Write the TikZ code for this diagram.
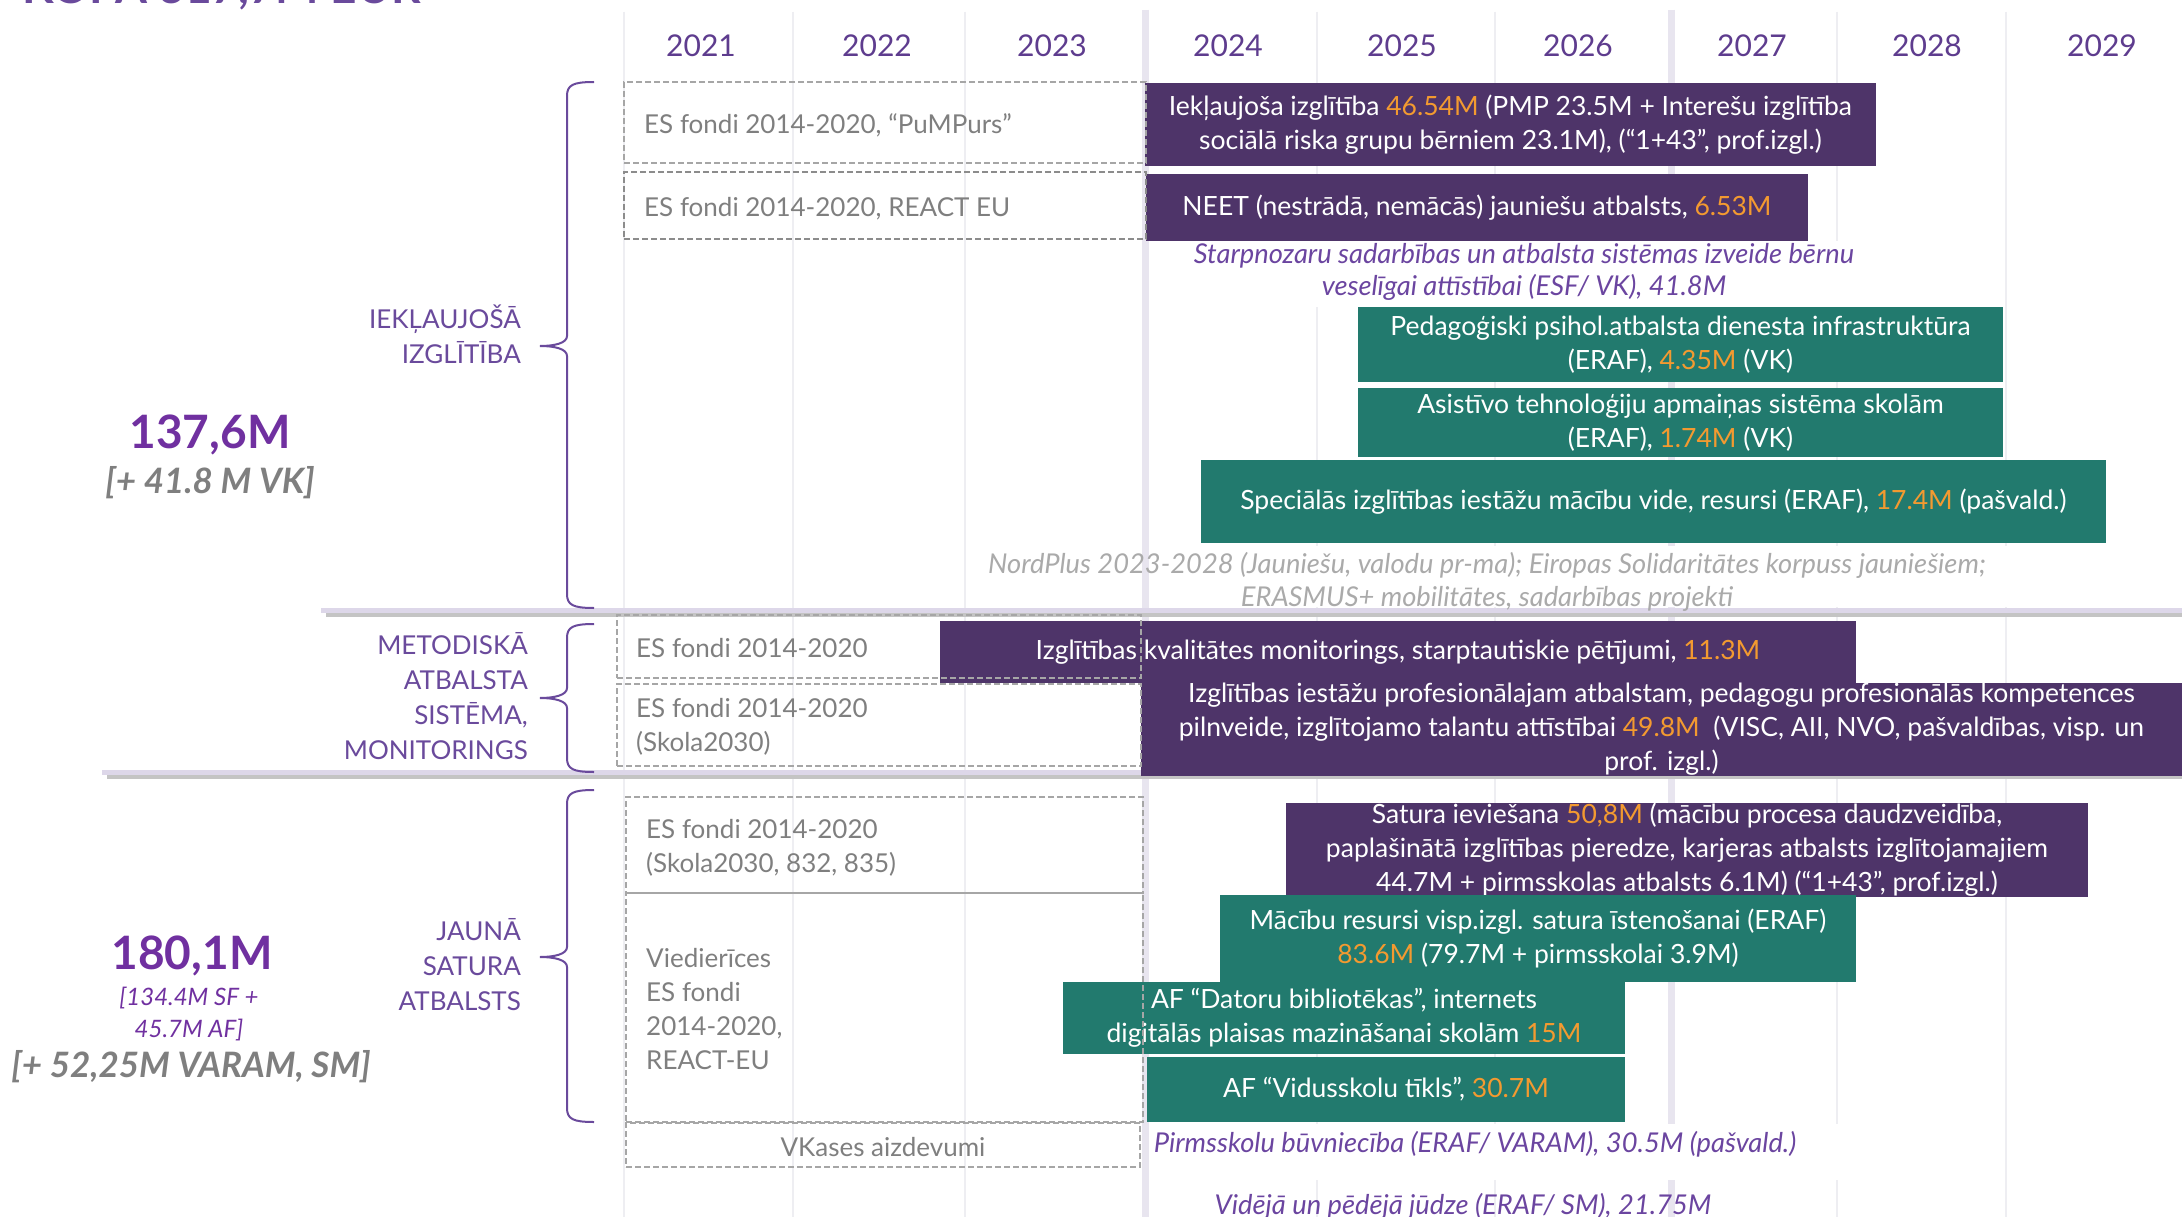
\documentclass[tikz,border=0pt]{standalone}
\usepackage{fontspec}
\setmainfont{Lato}
\definecolor{barpurple}{HTML}{4E3469}
\definecolor{bargreen}{HTML}{227A6E}
\definecolor{numorange}{HTML}{F39A30}
\definecolor{yearpurple}{HTML}{5E3C8E}
\definecolor{labelpurple}{HTML}{6A4A9C}
\definecolor{bigpurple}{HTML}{7030A0}
\definecolor{italpurple}{HTML}{6B45A0}
\definecolor{boxgray}{HTML}{A6A6A6}
\definecolor{boxdark}{HTML}{8C8C8C}
\definecolor{textgray}{HTML}{7F7F7F}
\definecolor{lightgray}{HTML}{AAAAAA}
\definecolor{gridthin}{HTML}{EEEEF2}
\definecolor{gridthick}{HTML}{E8E5EF}
\definecolor{seplav}{HTML}{DDD7E9}
\definecolor{sepshadow}{HTML}{C4C4C4}
\newcommand{\num}[1]{\textcolor{numorange}{#1}}
\newcommand{\mybrace}[4]{%
  \draw[bracestyle] ({#1+27},#2) .. controls ({#1+6},#2) and (#1,{#2+3}) .. (#1,{#2+14})
    -- (#1,{#3-10}) .. controls (#1,{#3-3}) and ({#1-12},#3) .. ({#1-27},#3)
    .. controls ({#1-12},#3) and (#1,{#3+3}) .. (#1,{#3+10})
    -- (#1,{#4-14}) .. controls (#1,{#4-3}) and ({#1+6},#4) .. ({#1+27},#4);}
\begin{document}
\begin{tikzpicture}[x=1pt,y=-1pt,
  pbar/.style={fill=barpurple,draw=none,inner sep=0pt,text=white,align=center,font=\fontsize{26.5}{34}\selectfont},
  gbar/.style={fill=bargreen,draw=none,inner sep=0pt,text=white,align=center,font=\fontsize{26.5}{34}\selectfont},
  dbox/.style={draw=boxgray,line width=2pt,dash pattern=on 6pt off 3pt,inner sep=0pt},
  dboxdark/.style={draw=boxdark,line width=2pt,dash pattern=on 6pt off 3pt,inner sep=0pt},
  boxtxt/.style={text=textgray,inner sep=0pt,align=left,font=\fontsize{26}{34}\selectfont},
  yearlbl/.style={text=yearpurple,inner sep=0pt,anchor=base,font=\fontsize{30}{36}\selectfont},
  bracelbl/.style={text=labelpurple,inner sep=0pt,anchor=east,align=right,font=\fontsize{26}{35}\selectfont},
  bracestyle/.style={draw=labelpurple,line width=2pt},
  italp/.style={text=italpurple,inner sep=0pt,align=center,font=\fontsize{27.3}{32}\selectfont\itshape},
  italg/.style={text=lightgray,inner sep=0pt,align=center,font=\fontsize{27.3}{33}\selectfont\itshape},
  bignum/.style={text=bigpurple,inner sep=0pt,anchor=base,font=\fontsize{46}{50}\selectfont\bfseries},
  grayextra/.style={text=textgray,inner sep=0pt,anchor=base,font=\fontsize{35}{40}\selectfont\bfseries\itshape},
  smallp/.style={text=bigpurple,inner sep=0pt,anchor=base,font=\fontsize{24}{28}\selectfont\itshape}
]
\useasboundingbox (0,0) rectangle (2182,1217);
\fill[white] (0,0) rectangle (2182,1217);

% title (cut off at top, as in the reference)
\node[text=labelpurple,inner sep=0pt,anchor=base west,font=\fontsize{46}{50}\selectfont\bfseries] (title) at (22,4) {KOPĀ 317,7M EUR};

% grid lines
\foreach \gx in {624,793,965,1317,1495,1837,2006}
  \draw[gridthin,line width=2pt] (\gx,12) -- (\gx,1217);
\foreach \gx in {1145,1671}
  \draw[gridthick,line width=7pt] (\gx,10) -- (\gx,1217);

% years
\foreach \yx/\yr in {701/2021,877/2022,1052/2023,1228/2024,1402/2025,1578/2026,1752/2027,1927/2028,2102/2029}
  \node[yearlbl] (y\yr) at (\yx,57) {\yr};

% white patches behind italic texts
\fill[white] (1149,241) rectangle (1907,307);
\fill[white] (1149,546) rectangle (2020,607);
\fill[white] (1149,1124) rectangle (1840,1180);

% separators
\draw[sepshadow,line width=4pt] (326,615) -- (2182,615);
\draw[seplav,line width=5pt] (321,610) -- (2182,610);
\draw[sepshadow,line width=4pt] (107,777) -- (2182,777);
\draw[seplav,line width=5pt] (102,772) -- (2182,772);

% bars
\node[pbar,minimum width=731pt,minimum height=83pt] (barA) at (1510.5,124.5)
  {Iekļaujoša izglītība \num{46.54M} (PMP 23.5M + Interešu izglītība\\sociālā riska grupu bērniem 23.1M), (“1+43”, prof.izgl.)};
\node[pbar,minimum width=662pt,minimum height=67pt] (barB) at (1477,207.5)
  {NEET (nestrādā, nemācās) jauniešu atbalsts, \num{6.53M}};
\node[gbar,minimum width=645pt,minimum height=75pt] (barC) at (1680.5,344.5)
  {Pedagoģiski psihol.atbalsta dienesta infrastruktūra\\(ERAF), \num{4.35M} (VK)};
\node[gbar,minimum width=645pt,minimum height=69pt] (barD) at (1680.5,422.5)
  {Asistīvo tehnoloģiju apmaiņas sistēma skolām\\(ERAF), \num{1.74M} (VK)};
\node[gbar,minimum width=905pt,minimum height=83pt] (barE) at (1653.5,501.5)
  {Speciālās izglītības iestāžu mācību vide, resursi (ERAF), \num{17.4M} (pašvald.)};
\node[pbar,minimum width=916pt,minimum height=62pt] (barF) at (1398,652)
  {Izglītības kvalitātes monitorings, starptautiskie pētījumi, \num{11.3M}};
\node[pbar,minimum width=1041pt,minimum height=85pt] (barG) at (1661.5,729.5)
  {Izglītības iestāžu profesionālajam atbalstam, pedagogu profesionālās kompetences\\pilnveide, izglītojamo talantu attīstībai \num{49.8M}~ (VISC, AII, NVO, pašvaldības, visp. un\\prof. izgl.)};
\node[pbar,minimum width=802pt,minimum height=90pt] (barH) at (1687,850)
  {Satura ieviešana \num{50,8M} (mācību procesa daudzveidība,\\paplašinātā izglītības pieredze, karjeras atbalsts izglītojamajiem\\44.7M + pirmsskolas atbalsts 6.1M) (“1+43”, prof.izgl.)};
\node[gbar,minimum width=636pt,minimum height=87pt] (barI) at (1538,938.5)
  {Mācību resursi visp.izgl. satura īstenošanai (ERAF)\\\num{83.6M} (79.7M + pirmsskolai 3.9M)};
\node[gbar,minimum width=562pt,minimum height=72pt] (barJ) at (1344,1018)
  {AF “Datoru bibliotēkas”, internets\\digitālās plaisas mazināšanai skolām \num{15M}};
\node[gbar,minimum width=478pt,minimum height=65pt] (barK) at (1386,1089.5)
  {AF “Vidusskolu tīkls”, \num{30.7M}};

% dashed boxes
\node[dbox,minimum width=522pt,minimum height=81pt] (b1) at (885,122.5) {};
\node[dboxdark,minimum width=522pt,minimum height=67pt] (b2) at (885,205.5) {};
\node[dbox,minimum width=524pt,minimum height=63pt] (b3) at (879,646.5) {};
\node[dbox,minimum width=524pt,minimum height=82pt] (b4) at (879,725) {};
\node[dbox,minimum width=517pt,minimum height=96pt] (b5) at (884.5,845) {};
\node[dbox,minimum width=517pt,minimum height=229pt] (b6) at (884.5,1007.5) {};
\node[dbox,minimum width=514pt,minimum height=44pt] (b7) at (883,1145) {};

\node[boxtxt,anchor=west] (t1) at ([xshift=21pt,yshift=-3pt]b1.west) {ES fondi 2014-2020, “PuMPurs”};
\node[boxtxt,anchor=west] (t2) at ([xshift=21pt,yshift=-3pt]b2.west) {ES fondi 2014-2020, REACT EU};
\node[boxtxt,anchor=west] (t3) at ([xshift=20pt,yshift=-2pt]b3.west) {ES fondi 2014-2020};
\node[boxtxt,anchor=west] (t4) at ([xshift=20pt,yshift=-2pt]b4.west) {ES fondi 2014-2020\\(Skola2030)};
\node[boxtxt,anchor=west] (t5) at ([xshift=21pt,yshift=-3pt]b5.west) {ES fondi 2014-2020\\(Skola2030, 832, 835)};
\node[boxtxt,anchor=west] (t6) at ([xshift=21pt,yshift=-2pt]b6.west) {Viedierīces\\ES fondi\\2014-2020,\\REACT-EU};
\node[boxtxt,align=center] (t7) at ([yshift=-2pt]b7.center) {VKases aizdevumi};

% italic notes
\node[italp] (n1) at (1524,272) {Starpnozaru sadarbības un atbalsta sistēmas izveide bērnu\\veselīgai attīstībai (ESF/ VK), 41.8M};
\node[italg] (n2) at (1487,582) {NordPlus 2023-2028 (Jauniešu, valodu pr-ma); Eiropas Solidaritātes korpuss jauniešiem;\\ERASMUS+ mobilitātes, sadarbības projekti};
\node[italp] (n3) at (1475,1144) {Pirmsskolu būvniecība (ERAF/ VARAM), 30.5M (pašvald.)};
\node[italp] (n4) at (1463,1206) {Vidējā un pēdējā jūdze (ERAF/ SM), 21.75M};

% braces
\mybrace{567}{82}{346}{608}
\mybrace{567}{624}{698}{772}
\mybrace{567}{790}{957}{1122}

\node[bracelbl] (l1) at (521,334) {IEKĻAUJOŠĀ\\IZGLĪTĪBA};
\node[bracelbl] (l2) at (528,696) {METODISKĀ\\ATBALSTA\\SISTĒMA,\\MONITORINGS};
\node[bracelbl] (l3) at (521,965) {JAUNĀ\\SATURA\\ATBALSTS};

% totals
\node[bignum] (tot1) at (210,448) {137,6M};
\node[grayextra] (ext1) at (210,493) {[+ 41.8 M VK]};
\node[bignum] (tot2) at (192,969) {180,1M};
\node[smallp] (sf1) at (189,1005) {[134.4M SF +};
\node[smallp] (sf2) at (189,1037) {45.7M AF]};
\node[grayextra] (ext2) at (191,1077) {[+ 52,25M VARAM, SM]};
\end{tikzpicture}
\end{document}
